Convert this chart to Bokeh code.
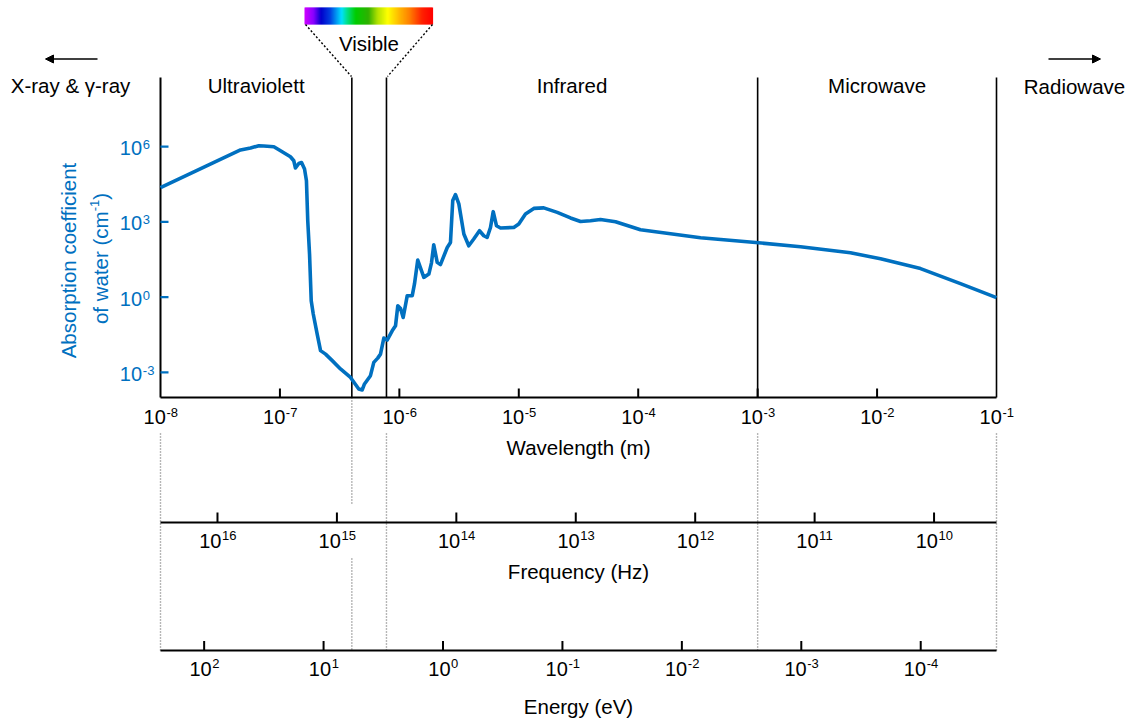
import math
import numpy as np
from bokeh.plotting import figure
from bokeh.models import Range1d, LinearScale, ColumnDataSource, Arrow, NormalHead
from bokeh.core.properties import value
from bokeh.embed import file_html
from bokeh.resources import INLINE

# ---------------- data ----------------
log10_wavelength_m = [
    -8.000, -7.330, -7.246, -7.177, -7.135, -7.051, -6.995, -6.912, -6.884, -6.870,
    -6.842, -6.819, -6.794, -6.778, -6.767, -6.752, -6.738, -6.721, -6.688, -6.660,
    -6.618, -6.562, -6.493, -6.409, -6.340, -6.311, -6.292, -6.242, -6.214, -6.181,
    -6.158, -6.130, -6.102, -6.060, -6.032, -6.013, -5.990, -5.968, -5.934, -5.892,
    -5.873, -5.846, -5.795, -5.753, -5.731, -5.712, -5.683, -5.656, -5.599, -5.572,
    -5.553, -5.530, -5.502, -5.460, -5.419, -5.377, -5.329, -5.293, -5.265, -5.237,
    -5.214, -5.187, -5.153, -5.042, -5.000, -4.944, -4.874, -4.791, -4.678, -4.567,
    -4.483, -4.400, -4.316, -4.190, -3.981, -3.478, -2.993, -2.641, -2.223, -1.971,
    -1.636, -1.302, -1.000,
]
log10_absorption_per_cm = [
    4.37, 5.87, 5.95, 6.04, 6.03, 6.00, 5.84, 5.60, 5.44, 5.15,
    5.33, 5.37, 5.11, 4.64, 3.05, 1.72, -0.14, -0.67, -1.47, -2.13,
    -2.27, -2.53, -2.86, -3.20, -3.66, -3.70, -3.46, -3.13, -2.60, -2.43,
    -2.27, -1.63, -1.71, -1.34, -1.14, -0.34, -0.45, -0.81, 0.06, 0.06,
    0.54, 1.48, 0.79, 0.92, 1.37, 2.09, 1.39, 1.30, 1.98, 2.18,
    3.85, 4.09, 3.72, 2.52, 2.05, 2.32, 2.65, 2.45, 2.38, 2.78,
    3.41, 2.85, 2.76, 2.78, 2.92, 3.32, 3.54, 3.56, 3.38, 3.16,
    3.02, 3.05, 3.10, 3.01, 2.69, 2.37, 2.17, 2.01, 1.77, 1.53,
    1.14, 0.54, -0.02,
]

band_edges_m = [4.0e-7, 7.8e-7, 1.0e-3, 1.0e-1]
inner_bands = ["Ultraviolett", "Infrared", "Microwave"]
inner_band_limits_m = [(1.0e-8, 4.0e-7), (7.8e-7, 1.0e-3), (1.0e-3, 1.0e-1)]
outer_bands = ["X-ray & γ-ray", "Radiowave"]

wavelength_tick_exps = [-8, -7, -6, -5, -4, -3, -2, -1]
absorption_tick_exps = [6, 3, 0, -3]
frequency_tick_exps = [16, 15, 14, 13, 12, 11, 10]
energy_tick_exps = [2, 1, 0, -1, -2, -3, -4]
SPEED_OF_LIGHT = 3.0e8      # m/s
EV_SCALE_M = 2.32e-6        # energy scale as drawn on the chart (eV * m)

# ---------------- layout ----------------
W, H = 1130, 718
X0_PX, X1_PX = 160.0, 996.0            # 1e-8 m ... 1e-1 m
XDEC = (X1_PX - X0_PX) / 7.0
YDEC = 25.08                           # px per decade of absorption
Y_BOT_PX = 397.0                       # 1e-4 cm^-1
Y_TOP_PX = 77.0
FREQ_AXIS_PX = 522.0
EN_AXIS_PX = 650.0
FONT = value("Liberation Sans")
BLUE = "#0070C0"
GUIDE = dict(line_color="#6e6e6e", line_width=1.4, line_dash="1 2")

x_lo = -8 - X0_PX / XDEC
x_hi = -1 + (W - X1_PX) / XDEC
y_hi = -4 + Y_BOT_PX / YDEC
y_lo = -4 - (H - Y_BOT_PX) / YDEC

p = figure(width=W, height=H, x_axis_type="log", y_axis_type="log",
           x_range=Range1d(10 ** x_lo, 10 ** x_hi), y_range=Range1d(10 ** y_lo, 10 ** y_hi),
           x_axis_location=None, y_axis_location=None, min_border=0,
           toolbar_location=None, output_backend="svg", outline_line_color=None,
           background_fill_color="white", border_fill_color="white")
p.grid.visible = False
p.extra_x_ranges = {"px": Range1d(0, W)}
p.extra_x_scales = {"px": LinearScale()}
p.extra_y_ranges = {"px": Range1d(H, 0)}
p.extra_y_scales = {"px": LinearScale()}

# ---------------- spectrum bar ----------------
stops = [(0.00, "#D000FF"), (0.07, "#8A00FF"), (0.13, "#0000CC"), (0.20, "#0040E0"),
         (0.29, "#00E0FF"), (0.33, "#00E090"), (0.40, "#00CC00"), (0.50, "#30B000"),
         (0.57, "#B0E000"), (0.65, "#FFFF00"), (0.75, "#FFB000"), (0.82, "#FF8000"),
         (0.92, "#FF2000"), (1.00, "#FF0000")]
sp = np.array([s[0] for s in stops])
rgb = np.array([[int(c[1][i:i + 2], 16) for i in (1, 3, 5)] for c in stops], dtype=float)
nseg = 128
bar_l, bar_r, bar_t, bar_b = 304.0, 432.0, 7.0, 24.0
fr = (np.arange(nseg) + 0.5) / nseg
cols = ["#%02x%02x%02x" % tuple(int(round(np.interp(f, sp, rgb[:, k]))) for k in range(3)) for f in fr]
lefts = bar_l + np.arange(nseg) * (bar_r - bar_l) / nseg
p.quad(left=lefts, right=lefts + (bar_r - bar_l) / nseg + 0.6, top=bar_t, bottom=bar_b,
       fill_color=cols, line_color=None, x_range_name="px", y_range_name="px")
p.segment(x0=[305, 432], y0=[bar_b, bar_b], x1=[351, 387], y1=[Y_TOP_PX - 1, Y_TOP_PX - 1],
          line_color="black", line_width=1.4, line_dash="2 2",
          x_range_name="px", y_range_name="px")

TXT = dict(text_font=FONT, text_baseline="middle")
p.text(x=[368.5], y=[42.5], text=["Visible"], text_align="center",
       text_font_size=value("20.5px"), text_color="black",
       x_range_name="px", y_range_name="px", **TXT)

# ---------------- band labels and arrows ----------------
inner_x = [math.sqrt(a * b) for a, b in inner_band_limits_m]
p.text(x=inner_x, y=[85] * 3, text=inner_bands, text_align="center",
       text_font_size=value("20.5px"), text_color="black", y_range_name="px", **TXT)
p.text(x=[70, 1074], y=[85, 86], text=outer_bands, text_align="center",
       text_font_size=value("20.5px"), text_color="black",
       x_range_name="px", y_range_name="px", **TXT)
p.add_layout(Arrow(end=NormalHead(size=8, fill_color="black", line_color="black"),
                   x_start=97, y_start=58.5, x_end=45, y_end=58.5, line_width=1.5,
                   x_range_name="px", y_range_name="px"))
p.add_layout(Arrow(end=NormalHead(size=8, fill_color="black", line_color="black"),
                   x_start=1048, y_start=58.5, x_end=1100, y_end=58.5, line_width=1.5,
                   x_range_name="px", y_range_name="px"))

# ---------------- dotted guides below the plot ----------------
guide_x = [1.0e-8, 7.8e-7, 1.0e-3, 1.0e-1]
p.segment(x0=guide_x, x1=guide_x, y0=[433] * 4, y1=[EN_AXIS_PX] * 4, y_range_name="px", **GUIDE)
p.segment(x0=[4.0e-7, 4.0e-7], x1=[4.0e-7, 4.0e-7], y0=[Y_BOT_PX, 558], y1=[505, EN_AXIS_PX],
          y_range_name="px", **GUIDE)

# ---------------- band boundaries and axes ----------------
p.segment(x0=band_edges_m, x1=band_edges_m, y0=[Y_TOP_PX] * 4, y1=[Y_BOT_PX] * 4,
          line_color="black", line_width=1.6, y_range_name="px")
p.segment(x0=[1e-8], x1=[1e-8], y0=[Y_TOP_PX], y1=[Y_BOT_PX], line_color="black",
          line_width=2, y_range_name="px")
for ypx in (Y_BOT_PX, FREQ_AXIS_PX, EN_AXIS_PX):
    p.segment(x0=[1e-8], x1=[1e-1], y0=[ypx], y1=[ypx], line_color="black", line_width=2,
              y_range_name="px")

wl_ticks = [10.0 ** e for e in wavelength_tick_exps]
fr_ticks = [SPEED_OF_LIGHT / 10.0 ** e for e in frequency_tick_exps]
en_ticks = [EV_SCALE_M / 10.0 ** e for e in energy_tick_exps]
p.segment(x0=wl_ticks[1:-1], x1=wl_ticks[1:-1], y0=[Y_BOT_PX] * 6, y1=[Y_BOT_PX - 9] * 6,
          line_color="black", line_width=2, y_range_name="px")
p.segment(x0=fr_ticks, x1=fr_ticks, y0=[FREQ_AXIS_PX] * 7, y1=[FREQ_AXIS_PX - 10] * 7,
          line_color="black", line_width=2, y_range_name="px")
p.segment(x0=en_ticks, x1=en_ticks, y0=[EN_AXIS_PX] * 7, y1=[EN_AXIS_PX - 9.5] * 7,
          line_color="black", line_width=2, y_range_name="px")

ab_ticks = [10.0 ** e for e in absorption_tick_exps]
p.segment(x0=[X0_PX] * 4, x1=[X0_PX + 8] * 4, y0=ab_ticks, y1=ab_ticks,
          line_color=BLUE, line_width=2.2, x_range_name="px")

# ---------------- tick labels (10 with superscript) ----------------
CW = {str(d): 0.556 for d in range(10)}
CW["-"] = 0.333


def tw(s, size):
    return sum(CW[c] for c in s) * size


BASE, SUP = 20, 13


def power_labels(xs, exps, base_y, sup_y, color="black"):
    n = len(xs)
    sup = [str(e) for e in exps]
    wb = tw("10", BASE)
    off = [(wb - tw(s, SUP)) / 2 for s in sup]
    src = ColumnDataSource(dict(x=xs, yb=[base_y] * n, ys=[sup_y] * n, base=["10"] * n,
                                sup=sup, off=off, off2=[o + 0.6 for o in off]))
    p.text(x="x", y="yb", text="base", x_offset="off", source=src, text_align="right",
           text_font_size=value(f"{BASE}px"), text_color=color, y_range_name="px", **TXT)
    p.text(x="x", y="ys", text="sup", x_offset="off2", source=src, text_align="left",
           text_font_size=value(f"{SUP}px"), text_color=color, y_range_name="px", **TXT)


power_labels(wl_ticks, wavelength_tick_exps, 416, 411.5)
power_labels(fr_ticks, frequency_tick_exps, 540.3, 535.3)
power_labels(en_ticks, energy_tick_exps, 668.3, 663)

ysrc = ColumnDataSource(dict(y=ab_ticks, base=["10"] * 4, sup=[str(e) for e in absorption_tick_exps],
                             xb=[141.5] * 4, xs=[142.3] * 4))
p.text(x="xb", y="y", text="base", source=ysrc, y_offset=1.5, text_align="right",
       text_font_size=value(f"{BASE}px"), text_color=BLUE, x_range_name="px", **TXT)
p.text(x="xs", y="y", text="sup", source=ysrc, y_offset=-2.0, text_align="left",
       text_font_size=value(f"{SUP}px"), text_color=BLUE, x_range_name="px", **TXT)

# ---------------- axis titles ----------------
p.text(x=[578, 578, 578], y=[447, 571, 706], text=["Wavelength (m)", "Frequency (Hz)", "Energy (eV)"],
       text_align="center", text_font_size=value("20.5px"), text_color="black",
       x_range_name="px", y_range_name="px", **TXT)

TS = 20.5
p.text(x=[68], y=[260], text=["Absorption coefficient"], angle=math.pi / 2,
       text_align="center", text_font_size=value(f"{TS}px"), text_color=BLUE,
       x_range_name="px", y_range_name="px", **TXT)
w1 = (0.556 + 0.278 + 0.278 + 0.722 + 0.556 + 0.278 + 0.556 + 0.333 + 0.278 + 0.333 + 0.5 + 0.833) * TS
ws = tw("-1", 13)
w3 = 0.333 * TS
y_start = 258 + (w1 + ws + w3) / 2
p.text(x=[100, 94, 100], y=[y_start, y_start - w1, y_start - w1 - ws], text=["of water (cm", "-1", ")"],
       angle=math.pi / 2, text_align="left", text_font_size=[f"{TS}px", "13px", f"{TS}px"],
       text_color=BLUE, x_range_name="px", y_range_name="px", **TXT)

# ---------------- the absorption curve ----------------
src = ColumnDataSource(dict(wl=[10.0 ** v for v in log10_wavelength_m],
                            a=[10.0 ** v for v in log10_absorption_per_cm]))
p.line(x="wl", y="a", source=src, line_color=BLUE, line_width=3.6, line_join="round")

open("out.html", "w").write(file_html(p, INLINE))
